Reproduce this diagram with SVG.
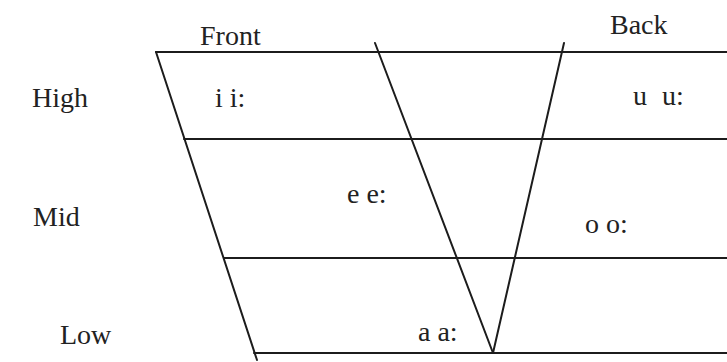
<svg xmlns="http://www.w3.org/2000/svg" width="727" height="362" viewBox="0 0 727 362">
<style>
.ln{stroke:#1c1c1c;stroke-width:2;fill:none;stroke-linecap:round}
.t{font-family:"Liberation Serif","Times New Roman",serif;font-size:28px;fill:#222}
</style>
<rect width="727" height="362" fill="#fff"/>
<g id="connectors">
<line class="ln" x1="156" y1="52" x2="727" y2="52"/>
<line class="ln" x1="184" y1="139" x2="727" y2="139"/>
<line class="ln" x1="224" y1="258" x2="727" y2="258"/>
<line class="ln" x1="254" y1="353" x2="727" y2="353"/>
<line class="ln" x1="156" y1="52" x2="257" y2="360"/>
<line class="ln" x1="375" y1="43" x2="493" y2="353"/>
<line class="ln" x1="564" y1="43" x2="493" y2="353"/>
</g>
<g id="front"><text class="t" x="200" y="45">Front</text></g>
<g id="back"><text class="t" x="610" y="34">Back</text></g>
<g id="high"><text class="t" x="32" y="107">High</text></g>
<g id="mid"><text class="t" x="33" y="226">Mid</text></g>
<g id="low"><text class="t" x="60" y="344">Low</text></g>
<g id="ii"><text class="t" x="215" y="107">i i:</text></g>
<g id="uu"><text class="t" x="633" y="105" word-spacing="8">u u:</text></g>
<g id="ee"><text class="t" x="347" y="203">e e:</text></g>
<g id="oo"><text class="t" x="585" y="233">o o:</text></g>
<g id="aa"><text class="t" x="418" y="341">a a:</text></g>
</svg>
